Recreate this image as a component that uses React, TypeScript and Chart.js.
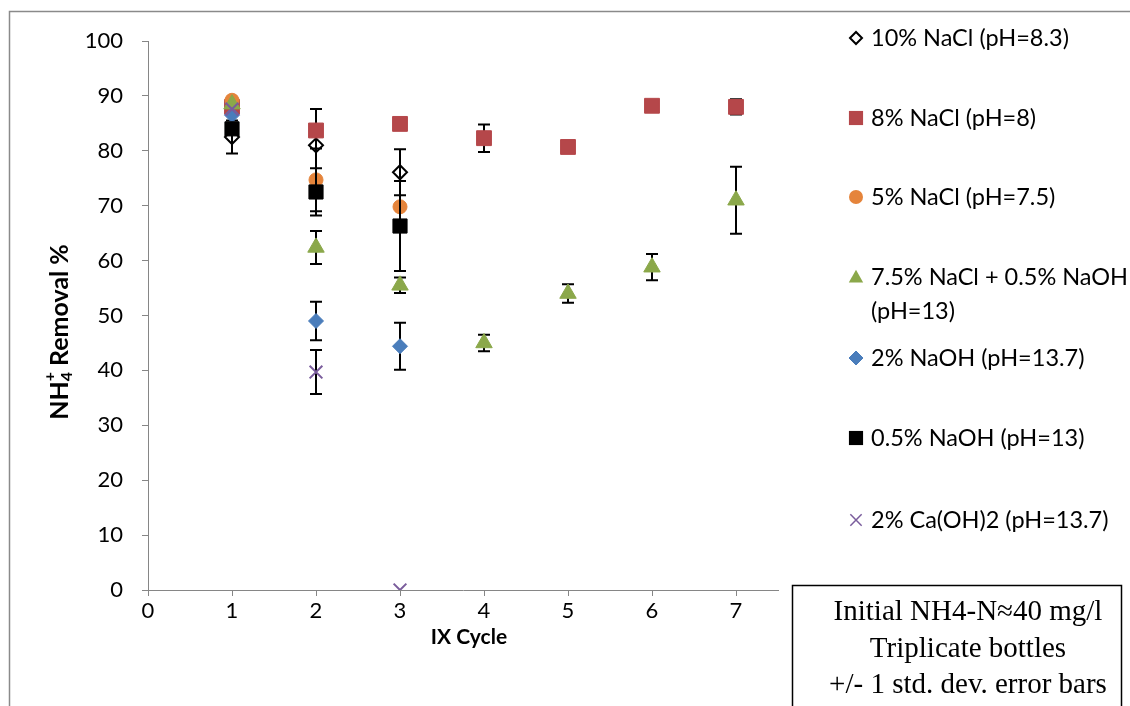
import React, { useEffect, useRef } from "react";
import { Chart, registerables } from "chart.js";

Chart.register(...registerables);

// IX cycle numbers on the x axis
const cycles = [1, 2, 3, 4, 5, 6, 7];

// NH4+ removal (%) per regenerant, with ±1 std. dev.
const nacl10 = [82.5, 81, 76.1];
const nacl10Sd = [3, 6.6, 4.2];
const nacl8 = [88, 83.7, 84.9, 82.3, 80.7, 88.2, 88];
const nacl8Sd = [0, 0, 0, 2.5, 0, 0, 1.4];
const nacl5 = [89.2, 74.7, 69.8];
const nacl5Sd = [0, 5.7, 0];
const naclNaoh = [88.5, 62.4, 55.5, 45, 54, 58.8, 71];
const naclNaohSd = [0, 3, 1.4, 1.5, 1.7, 2.4, 6.1];
const naoh2 = [86.5, 49, 44.4];
const naoh2Sd = [0, 3.5, 4.3];
const naoh05 = [84, 72.5, 66.3];
const naoh05Sd = [0, 4.3, 8.2];
const caoh2 = [87.6, 39.7, 0];
const caoh2Sd = [0, 4, 0];

const seriesNames = [
  "10% NaCl (pH=8.3)",
  "8% NaCl (pH=8)",
  "5% NaCl (pH=7.5)",
  "7.5% NaCl + 0.5% NaOH|(pH=13)",
  "2% NaOH (pH=13.7)",
  "0.5% NaOH (pH=13)",
  "2% Ca(OH)2 (pH=13.7)",
];

const yTickValues = [0, 10, 20, 30, 40, 50, 60, 70, 80, 90, 100];
const xTickValues = [0, 1, 2, 3, 4, 5, 6, 7];

const noteLines = ["Initial NH4-N≈40 mg/l", "Triplicate bottles", "+/- 1 std. dev. error bars"];

const seriesValues = [nacl10, nacl8, nacl5, naclNaoh, naoh2, naoh05, caoh2];
const seriesSd = [nacl10Sd, nacl8Sd, nacl5Sd, naclNaohSd, naoh2Sd, naoh05Sd, caoh2Sd];

type Style = { shape: string; radius: number; fill: string; stroke: string; lw: number; legendR: number };
const styles: Style[] = [
  { shape: "rectRot", radius: 7, fill: "rgba(0,0,0,0)", stroke: "#000000", lw: 2, legendR: 6 },
  { shape: "rect", radius: 10.5, fill: "#B5474A", stroke: "#B5474A", lw: 1, legendR: 10 },
  { shape: "circle", radius: 7, fill: "#E5843B", stroke: "#E5843B", lw: 1, legendR: 7 },
  { shape: "triangle", radius: 9.5, fill: "#8BA84A", stroke: "#8BA84A", lw: 1, legendR: 9 },
  { shape: "rectRot", radius: 7.5, fill: "#4A7DBB", stroke: "#4A7DBB", lw: 1, legendR: 7 },
  { shape: "rect", radius: 10, fill: "#000000", stroke: "#000000", lw: 1, legendR: 10 },
  { shape: "crossRot", radius: 9, fill: "rgba(0,0,0,0)", stroke: "#7A5C9C", lw: 2, legendR: 8 },
];

const TICK_FONT = "Lato, 'Open Sans', sans-serif";
const AXIS_GREY = "#868686";

function drawMarker(ctx: CanvasRenderingContext2D, s: Style, x: number, y: number, r: number) {
  ctx.save();
  ctx.fillStyle = s.fill;
  ctx.strokeStyle = s.stroke;
  ctx.lineWidth = s.lw;
  ctx.beginPath();
  if (s.shape === "rect") {
    const h = r * Math.SQRT1_2;
    ctx.rect(x - h, y - h, 2 * h, 2 * h);
    ctx.fill();
  } else if (s.shape === "rectRot") {
    ctx.moveTo(x - r, y);
    ctx.lineTo(x, y - r);
    ctx.lineTo(x + r, y);
    ctx.lineTo(x, y + r);
    ctx.closePath();
    ctx.fill();
    ctx.stroke();
  } else if (s.shape === "circle") {
    ctx.arc(x, y, r, 0, Math.PI * 2);
    ctx.fill();
  } else if (s.shape === "triangle") {
    ctx.moveTo(x, y - r * 0.8);
    ctx.lineTo(x + r * 0.8, y + r * 0.6);
    ctx.lineTo(x - r * 0.8, y + r * 0.6);
    ctx.closePath();
    ctx.fill();
  } else if (s.shape === "crossRot") {
    const o = r * Math.SQRT1_2;
    ctx.lineWidth = 1.5;
    ctx.moveTo(x - o, y - o);
    ctx.lineTo(x + o, y + o);
    ctx.moveTo(x - o, y + o);
    ctx.lineTo(x + o, y - o);
    ctx.stroke();
  }
  ctx.restore();
}

// Vertical ±1 SD whiskers, drawn just beneath each series' markers
const errorBarPlugin = {
  id: "errorBars",
  beforeDatasetDraw(chart: any, args: any) {
    const i = args.index;
    const vals = seriesValues[i];
    const sds = seriesSd[i];
    const xs = chart.scales.x;
    const ys = chart.scales.y;
    const ctx = chart.ctx as CanvasRenderingContext2D;
    ctx.save();
    ctx.strokeStyle = "#000000";
    ctx.lineWidth = 2;
    vals.forEach((v, k) => {
      const sd = sds[k];
      if (!sd) return;
      const px = xs.getPixelForValue(cycles[k]);
      const top = ys.getPixelForValue(v + sd);
      const bot = ys.getPixelForValue(v - sd);
      ctx.beginPath();
      ctx.moveTo(px, top);
      ctx.lineTo(px, bot);
      ctx.moveTo(px - 6, top);
      ctx.lineTo(px + 6, top);
      ctx.moveTo(px - 6, bot);
      ctx.lineTo(px + 6, bot);
      ctx.stroke();
    });
    ctx.restore();
  },
};

// Frame, axis titles, legend and the note box
const decorPlugin = {
  id: "decor",
  beforeDraw(chart: any) {
    const ctx = chart.ctx as CanvasRenderingContext2D;
    ctx.save();
    ctx.fillStyle = "#ffffff";
    ctx.fillRect(0, 0, chart.width, chart.height);
    ctx.strokeStyle = "#8a8a8a";
    ctx.lineWidth = 1.5;
    ctx.strokeRect(9.5, 11.5, 3000, 3000);
    ctx.restore();
  },
  afterDraw(chart: any) {
    const ctx = chart.ctx as CanvasRenderingContext2D;
    const area = chart.chartArea;
    ctx.save();
    ctx.fillStyle = "#000000";

    // x-axis title
    ctx.font = `bold 21px ${TICK_FONT}`;
    ctx.textAlign = "center";
    ctx.textBaseline = "middle";
    ctx.fillText("IX Cycle", (area.left + area.right) / 2 + 6, 637);

    // y-axis title with sub/superscript
    ctx.save();
    ctx.translate(60, 332);
    ctx.rotate(-Math.PI / 2);
    const big = `bold 25px ${TICK_FONT}`;
    const small = `bold 16px ${TICK_FONT}`;
    const parts = [
      { t: "NH", f: big, dy: 0 },
      { t: "4", f: small, dy: 7 },
      { t: "+", f: small, dy: -10 },
      { t: " Removal %", f: big, dy: 0 },
    ];
    let total = 0;
    parts.forEach((p, idx) => {
      if (idx === 2) return;
      ctx.font = p.f;
      total += ctx.measureText(p.t).width;
    });
    let cx = -total / 2;
    ctx.textAlign = "left";
    ctx.textBaseline = "middle";
    let subX = 0;
    parts.forEach((p, idx) => {
      ctx.font = p.f;
      const w = ctx.measureText(p.t).width;
      if (idx === 2) {
        ctx.fillText(p.t, subX, p.dy);
        return;
      }
      if (idx === 1) subX = cx;
      ctx.fillText(p.t, cx, p.dy);
      cx += w;
    });
    ctx.restore();

    // legend
    const legendY = [38, 118, 197, 277, 358, 438, 520];
    ctx.font = `23.5px ${TICK_FONT}`;
    ctx.textAlign = "left";
    ctx.textBaseline = "middle";
    seriesNames.forEach((name, i) => {
      const y = legendY[i];
      drawMarker(ctx, styles[i], 856, y, styles[i].legendR);
      const lines = name.split("|");
      lines.forEach((ln, j) => {
        ctx.fillStyle = "#000000";
        ctx.fillText(ln, 871, y + j * 34);
      });
    });

    // note box
    ctx.strokeStyle = "#000000";
    ctx.lineWidth = 1.5;
    ctx.strokeRect(792.5, 585.5, 329, 400);
    ctx.font = "29px 'Liberation Serif', 'DejaVu Serif', serif";
    ctx.textAlign = "center";
    ctx.textBaseline = "alphabetic";
    noteLines.forEach((ln, i) => {
      ctx.fillText(ln, 968, 620 + i * 36.5);
    });
    ctx.restore();
  },
};

export default function App() {
  const ref = useRef<HTMLCanvasElement | null>(null);

  useEffect(() => {
    if (!ref.current) return;
    const datasets = seriesValues.map((vals, i) => {
      const s = styles[i];
      return {
        label: seriesNames[i].replace("|", " "),
        data: vals.map((v, k) => ({ x: cycles[k], y: v })),
        showLine: false,
        // later series are painted over earlier ones
        order: -i,
        pointStyle: s.shape,
        pointRadius: s.radius,
        pointHoverRadius: s.radius,
        pointBackgroundColor: s.fill,
        pointBorderColor: s.stroke,
        pointBorderWidth: s.lw,
      };
    });

    const chart = new Chart(ref.current, {
      type: "scatter",
      data: { datasets },
      options: {
        responsive: false,
        animation: false,
        devicePixelRatio: 1,
        layout: { padding: { left: 0, top: 41, right: 352, bottom: 0 } },
        plugins: { legend: { display: false }, tooltip: { enabled: false } },
        scales: {
          x: {
            type: "linear",
            min: 0,
            max: 7.5,
            afterFit: (s: any) => {
              s.height = 116;
            },
            afterBuildTicks: (s: any) => {
              s.ticks = xTickValues.map((v) => ({ value: v }));
            },
            grid: { drawOnChartArea: false, color: AXIS_GREY, tickLength: 6 },
            border: { color: AXIS_GREY, width: 1 },
            ticks: { color: "#000000", padding: 2, font: { family: TICK_FONT, size: 22 } },
          },
          y: {
            type: "linear",
            min: 0,
            max: 100,
            afterFit: (s: any) => {
              s.width = 148;
            },
            afterBuildTicks: (s: any) => {
              s.ticks = yTickValues.map((v) => ({ value: v }));
            },
            grid: { drawOnChartArea: false, color: AXIS_GREY, tickLength: 6 },
            border: { color: AXIS_GREY, width: 1 },
            ticks: { color: "#000000", padding: 19, font: { family: TICK_FONT, size: 22 } },
          },
        },
      },
      plugins: [errorBarPlugin, decorPlugin],
    });
    return () => chart.destroy();
  }, []);

  return (
    <div style={{ position: "absolute", left: 0, top: 0, width: 1130, height: 706 }}>
      <canvas ref={ref} width={1130} height={706} />
    </div>
  );
}
